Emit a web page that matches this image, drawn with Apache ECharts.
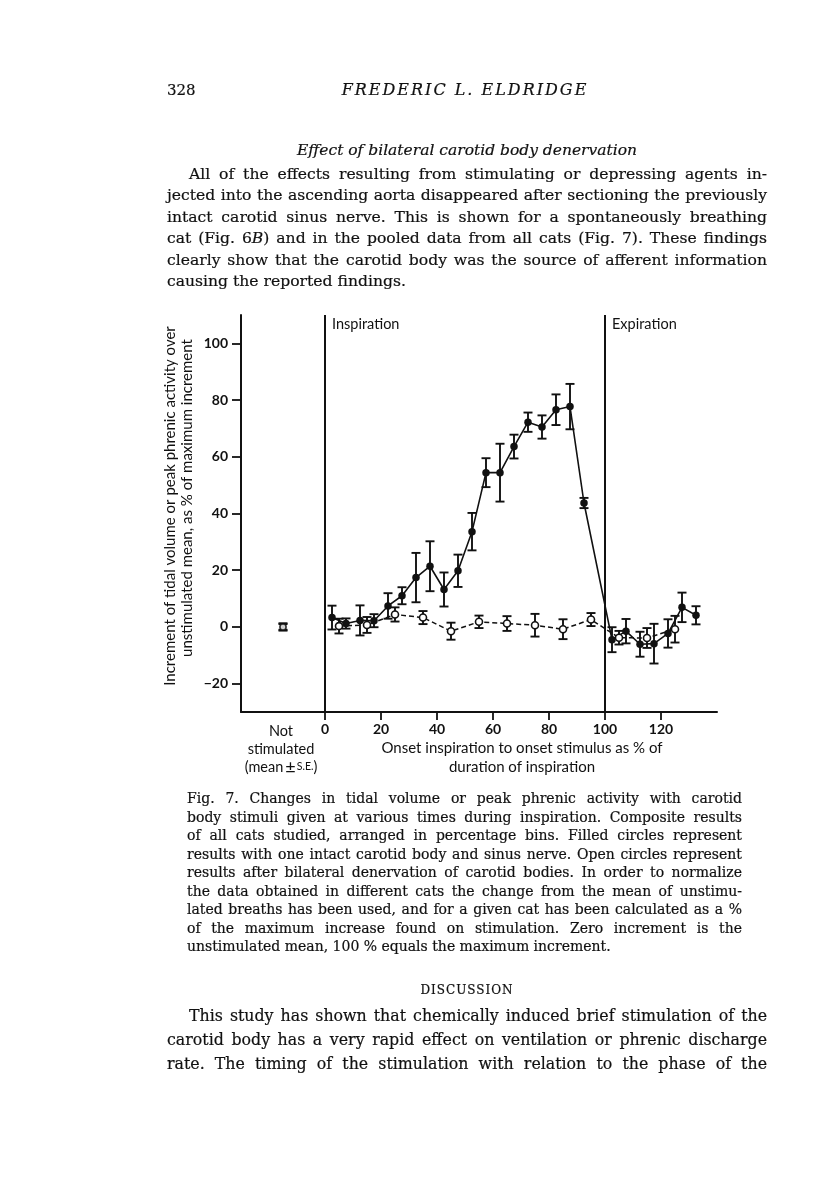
<!DOCTYPE html>
<html>
<head>
<meta charset="utf-8">
<script src="https://cdn.jsdelivr.net/npm/echarts@6/dist/echarts.min.js"></script>
<style>
    body { margin: 0; background: #fff; }
    #page { position: relative; width: 816px; height: 1190px; overflow: hidden; background: #fff; }
    #chart { position: absolute; left: 0; top: 0; width: 816px; height: 1190px; }
    .txt { position: absolute; font-family: 'DejaVu Serif', serif; color: #111; white-space: nowrap; -webkit-text-stroke: 0.2px #111; }
    .lines div { text-align: justify; text-align-last: justify; }
    .lines div.last { text-align-last: left; }
</style>
</head>
<body>
<div id="page">
    <div id="chart"></div>

    <div class="txt" style="left:167px;top:80px;font-size:15px;line-height:20px;">328</div>
    <div class="txt" style="left:265px;top:80px;width:400px;text-align:center;font-size:16px;font-style:italic;letter-spacing:2px;line-height:20px;">FREDERIC L. ELDRIDGE</div>

    <div class="txt" style="left:167px;top:140px;width:600px;text-align:center;font-size:15.5px;font-style:italic;line-height:20px;">Effect of bilateral carotid body denervation</div>

    <div class="txt lines" style="left:167px;top:164px;width:600px;font-size:15.6px;line-height:21.4px;">
        <div style="text-indent:22px;">All of the effects resulting from stimulating or depressing agents in-</div>
        <div>jected into the ascending aorta disappeared after sectioning the previously</div>
        <div>intact carotid sinus nerve. This is shown for a spontaneously breathing</div>
        <div>cat (Fig. 6<i>B</i>) and in the pooled data from all cats (Fig. 7). These findings</div>
        <div>clearly show that the carotid body was the source of afferent information</div>
        <div class="last">causing the reported findings.</div>
    </div>

    <div class="txt lines" style="left:187px;top:789px;width:555px;font-size:14px;line-height:18.5px;">
        <div>Fig. 7. Changes in tidal volume or peak phrenic activity with carotid</div>
        <div>body stimuli given at various times during inspiration. Composite results</div>
        <div>of all cats studied, arranged in percentage bins. Filled circles represent</div>
        <div>results with one intact carotid body and sinus nerve. Open circles represent</div>
        <div>results after bilateral denervation of carotid bodies. In order to normalize</div>
        <div>the data obtained in different cats the change from the mean of unstimu-</div>
        <div>lated breaths has been used, and for a given cat has been calculated as a %</div>
        <div>of the maximum increase found on stimulation. Zero increment is the</div>
        <div class="last">unstimulated mean, 100 % equals the maximum increment.</div>
    </div>

    <div class="txt" style="left:167px;top:981px;width:600px;text-align:center;font-size:12px;letter-spacing:1px;line-height:18px;">DISCUSSION</div>

    <div class="txt lines" style="left:167px;top:1004px;width:600px;font-size:15.8px;line-height:24px;">
        <div style="text-indent:22px;">This study has shown that chemically induced brief stimulation of the</div>
        <div>carotid body has a very rapid effect on ventilation or phrenic discharge</div>
        <div>rate. The timing of the stimulation with relation to the phase of the</div>
    </div>
</div>

<script>
// bins (% of inspiration), mean increment and S.E.
const filledX    = [2.5, 7.5, 12.5, 17.5, 22.5, 27.5, 32.5, 37.5, 42.5, 47.5, 52.5, 57.5, 62.5, 67.5, 72.5, 77.5, 82.5, 87.5, 92.5, 102.5, 107.5, 112.5, 117.5, 122.5, 127.5, 132.5];
const filledMean = [3.3, 1.2, 2.3, 2.2, 7.4, 11, 17.4, 21.4, 13.2, 19.8, 33.6, 54.4, 54.4, 63.6, 72.2, 70.5, 76.6, 77.7, 43.7, -4.5, -1.5, -6.1, -5.9, -2.3, 6.9, 4.1];
const filledSE   = [4.2, 1.8, 5.3, 2.3, 4.5, 3.0, 8.7, 8.8, 6.0, 5.7, 6.6, 5.1, 10.2, 4.2, 3.4, 4.1, 5.4, 8.0, 1.8, 4.4, 4.3, 4.4, 7.0, 5.0, 5.2, 3.2];

const openX    = [5, 15, 25, 35, 45, 55, 65, 75, 85, 95, 105, 115, 125];
const openMean = [0.3, 0.7, 4.4, 3.3, -1.5, 1.8, 1.2, 0.6, -0.8, 2.6, -3.8, -3.9, -0.8];
const openSE   = [2.6, 2.8, 2.5, 2.3, 3.0, 2.2, 2.6, 4.0, 3.5, 2.3, 2.4, 3.5, 4.7];

// not stimulated (mean ± S.E.)
const notStimX = -15;
const notStimFilled = [0, 1.3];
const notStimOpen = [0, 1.0];

const phaseLines = [0, 100];
const xTicks = [0, 20, 40, 60, 80, 100, 120];
const yTicks = [-20, 0, 20, 40, 60, 80, 100];

const ink = '#111';
const sans = 'Lato, "Open Sans", sans-serif';

const chart = echarts.init(document.getElementById('chart'));

function errorBar(params, api) {
    const x = api.value(0);
    const hi = api.coord([x, api.value(1) + api.value(2)]);
    const lo = api.coord([x, api.value(1) - api.value(2)]);
    const w = 4.5;
    const style = { stroke: ink, lineWidth: 1.9 };
    return {
        type: 'group',
        children: [
            { type: 'line', shape: { x1: hi[0], y1: hi[1], x2: lo[0], y2: lo[1] }, style },
            { type: 'line', shape: { x1: hi[0] - w, y1: hi[1], x2: hi[0] + w, y2: hi[1] }, style },
            { type: 'line', shape: { x1: lo[0] - w, y1: lo[1], x2: lo[0] + w, y2: lo[1] }, style }
        ]
    };
}

const filledData = filledX.map((x, i) => [x, filledMean[i]]);
const filledErr = filledX.map((x, i) => [x, filledMean[i], filledSE[i]]);
const openData = openX.map((x, i) => [x, openMean[i]]);
const openErr = openX.map((x, i) => [x, openMean[i], openSE[i]]);

const option = {
    animation: false,
    backgroundColor: 'transparent',
    grid: { left: 241, right: 99, top: 315, bottom: 478 },
    xAxis: {
        type: 'value',
        min: -30,
        max: 140,
        splitLine: { show: false },
        axisLine: { onZero: false, lineStyle: { color: ink, width: 2 } },
        axisTick: { customValues: xTicks, length: 8, lineStyle: { color: ink, width: 1.8 } },
        axisLabel: {
            customValues: xTicks,
            margin: 10,
            color: ink,
            fontFamily: sans,
            fontSize: 14,
            fontWeight: 'bold'
        }
    },
    yAxis: {
        type: 'value',
        min: -30,
        max: 110,
        splitLine: { show: false },
        axisLine: { onZero: false, lineStyle: { color: ink, width: 2 } },
        axisTick: { customValues: yTicks, length: 9, lineStyle: { color: ink, width: 1.8 } },
        axisLabel: {
            customValues: yTicks,
            margin: 13,
            color: ink,
            fontFamily: sans,
            fontSize: 14,
            fontWeight: 'bold',
            formatter: v => (v < 0 ? '\u2212' + Math.abs(v) : String(v))
        }
    },
    series: [
        {
            type: 'custom',
            renderItem: errorBar,
            encode: { x: 0, y: 1 },
            data: filledErr,
            z: 2
        },
        {
            type: 'custom',
            renderItem: errorBar,
            encode: { x: 0, y: 1 },
            data: openErr,
            z: 2
        },
        {
            type: 'custom',
            renderItem: errorBar,
            encode: { x: 0, y: 1 },
            data: [[notStimX, notStimFilled[0], notStimFilled[1]], [notStimX, notStimOpen[0], notStimOpen[1]]],
            z: 2
        },
        {
            name: 'Intact',
            type: 'line',
            data: filledData,
            symbol: 'circle',
            symbolSize: 7.5,
            itemStyle: { color: ink },
            lineStyle: { color: ink, width: 1.6 },
            z: 4,
            markLine: {
                silent: true,
                symbol: 'none',
                label: { show: false },
                lineStyle: { color: ink, width: 2, type: 'solid' },
                data: phaseLines.map(v => ({ xAxis: v }))
            }
        },
        {
            name: 'Denervated',
            type: 'line',
            data: openData,
            symbol: 'circle',
            symbolSize: 7,
            itemStyle: { color: '#fff', borderColor: ink, borderWidth: 1.6 },
            lineStyle: { color: ink, width: 1.5, type: [5, 3] },
            z: 5
        },
        {
            type: 'scatter',
            data: [[notStimX, notStimFilled[0]]],
            symbol: 'circle',
            symbolSize: 7,
            itemStyle: { color: ink },
            z: 4
        },
        {
            type: 'scatter',
            data: [[notStimX, notStimOpen[0]]],
            symbol: 'circle',
            symbolSize: 6,
            itemStyle: { color: '#fff', borderColor: ink, borderWidth: 1.5 },
            z: 5
        }
    ]
};
chart.setOption(option);

// phase labels placed next to the phase lines
const insp = chart.convertToPixel({ gridIndex: 0 }, [phaseLines[0], 110]);
const expi = chart.convertToPixel({ gridIndex: 0 }, [phaseLines[1], 110]);
const notStim = chart.convertToPixel({ gridIndex: 0 }, [notStimX, -30]);
const textStyle = { fill: ink, font: '14.5px ' + sans };

chart.setOption({
    graphic: [
        { type: 'text', x: insp[0] + 7, y: insp[1] + 2, style: Object.assign({ text: 'Inspiration' }, textStyle) },
        { type: 'text', x: expi[0] + 7, y: expi[1] + 2, style: Object.assign({ text: 'Expiration' }, textStyle) },
        {
            type: 'text', x: notStim[0] - 2, y: notStim[1] + 10,
            style: {
                text: 'Not\nstimulated\n(mean{pm|±}{sm|S.E.})',
                align: 'center',
                lineHeight: 18,
                fill: ink,
                font: '14.5px ' + sans,
                rich: {
                    pm: { font: '18px ' + sans, fill: ink, padding: [0, 1, 0, 2] },
                    sm: { font: '10.5px ' + sans, fill: ink }
                }
            }
        },
        {
            type: 'text', x: 522, y: 739,
            style: {
                text: 'Onset inspiration to onset stimulus as % of\nduration of inspiration',
                align: 'center',
                lineHeight: 19,
                fill: ink,
                font: '15px ' + sans
            }
        },
        {
            type: 'text', x: 170, y: 506, rotation: Math.PI / 2,
            style: {
                text: 'Increment of tidal volume or peak phrenic activity over',
                align: 'center', verticalAlign: 'middle', fill: ink, font: '15px ' + sans
            }
        },
        {
            type: 'text', x: 187, y: 498, rotation: Math.PI / 2,
            style: {
                text: 'unstimulated mean, as % of maximum increment',
                align: 'center', verticalAlign: 'middle', fill: ink, font: '15px ' + sans
            }
        }
    ]
});
</script>
</body>
</html>
